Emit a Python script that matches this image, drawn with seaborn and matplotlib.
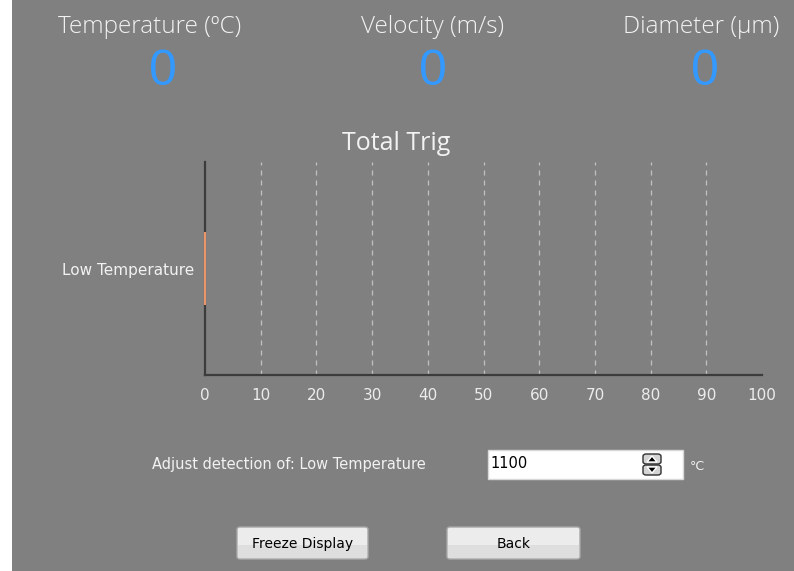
import matplotlib
matplotlib.use("Agg")
import matplotlib.pyplot as plt
import seaborn as sns
import pandas as pd
from matplotlib.patches import Rectangle, FancyBboxPatch, Polygon
from matplotlib import font_manager

# ---- data ----
categories = ["Low Temperature"]
values = [0]
x_ticks = [0, 10, 20, 30, 40, 50, 60, 70, 80, 90, 100]
header_labels = ["Temperature (\u00baC)", "Velocity (m/s)", "Diameter (\u00b5m)"]
header_values = [0, 0, 0]
chart_title = "Total Trig"
adjust_label = "Adjust detection of: Low Temperature"
threshold_value = "1100"
threshold_unit = "\u00b0C"
button_labels = ["Freeze Display", "Back"]

W, H = 794, 571
BG = "#808080"

sns.set_theme(style="white")
plt.rcParams["font.family"] = ["DejaVu Sans"]

fig = plt.figure(figsize=(W / 100, H / 100), dpi=100)
fig.patch.set_facecolor(BG)

def fx(px):
    return px / W

def fy(py):
    return 1 - py / H

# white strip on left edge
fig.add_artist(Rectangle((0, 0), fx(12), 1, transform=fig.transFigure,
                         facecolor="white", edgecolor="none", zorder=0))

avail = {f.name for f in font_manager.fontManager.ttflist}
light_font = "Open Sans" if "Open Sans" in avail else "DejaVu Sans"
narrow_font = "Liberation Sans Narrow" if "Liberation Sans Narrow" in avail else "Liberation Sans"

# ---- headers ----
hx = [150, 433, 701]
vx = [163, 433, 705]
for lab, val, x1, x2 in zip(header_labels, header_values, hx, vx):
    fig.text(fx(x1), fy(27), lab, ha="center", va="center", fontsize=17.5,
             color="#f2f2f2", family=[light_font, "DejaVu Sans"], fontweight="light")
    fig.text(fx(x2), fy(72), str(val), ha="center", va="center", fontsize=36,
             color="#3399ff", family=[narrow_font, "DejaVu Sans"])

fig.text(fx(396), fy(143), chart_title, ha="center", va="center", fontsize=18,
         color="#f2f2f2", family=[light_font, "DejaVu Sans"])

# ---- chart ----
ax = fig.add_axes([fx(205), fy(375), fx(762) - fx(205), (375 - 162) / H])
ax.set_facecolor("none")
df = pd.DataFrame({"category": categories, "value": values})
sns.barplot(data=df, x="value", y="category", orient="h", width=0.34,
            color="#e0906a", edgecolor="#e8956a", linewidth=1.6, ax=ax)
for p in ax.patches:
    p.set_zorder(5)
    p.set_clip_on(False)

ax.set_xlim(0, 100)
ax.set_xticks(x_ticks)
ax.set_xticklabels([str(t) for t in x_ticks])
ax.set_xlabel("")
ax.set_ylabel("")
ax.grid(axis="x", color="#c0c0c0", linestyle=(0, (4, 4)), linewidth=0.9)
ax.grid(axis="y", visible=False)
gl = ax.get_xgridlines()
gl[0].set_visible(False)
gl[-1].set_visible(False)
for s in ["top", "right"]:
    ax.spines[s].set_visible(False)
for s in ["left", "bottom"]:
    ax.spines[s].set_color("#3c3c3c")
    ax.spines[s].set_linewidth(1.6)
ax.tick_params(axis="x", length=0, pad=9, labelsize=11, labelcolor="#ececec")
ax.tick_params(axis="y", length=0, pad=8, labelsize=11, labelcolor="#f2f2f2")

# ---- adjust row ----
fig.text(fx(289), fy(465), adjust_label, ha="center", va="center", fontsize=10.5,
         color="#f2f2f2")
fig.add_artist(Rectangle((fx(488), fy(479)), fx(683) - fx(488), (479 - 450) / H,
                         transform=fig.transFigure, facecolor="white",
                         edgecolor="#d8d8d8", linewidth=1))
fig.text(fx(490), fy(464), threshold_value, ha="left", va="center", fontsize=10.5,
         color="black")
# spinner (two stacked buttons)
for (top, bot, tri) in [(454, 464, [(647, 462), (657, 462), (652, 456)]),
                        (465, 475, [(647, 467), (657, 467), (652, 473)])]:
    fig.add_artist(FancyBboxPatch((fx(643), fy(bot)), fx(18), (bot - top) / H,
                                  boxstyle="round,pad=0,rounding_size=0.004",
                                  transform=fig.transFigure, facecolor="#d4d4d4",
                                  edgecolor="#303030", linewidth=1.0))
    fig.add_artist(Polygon([(fx(a), fy(b)) for a, b in tri], closed=True,
                           transform=fig.transFigure, facecolor="black"))
fig.text(fx(690), fy(467), threshold_unit, ha="left", va="center", fontsize=9,
         color="#f2f2f2")

# ---- buttons ----
for lab, (x0, x1) in zip(button_labels, [(237, 368), (447, 580)]):
    fig.add_artist(FancyBboxPatch((fx(x0), fy(559)), fx(x1) - fx(x0), (559 - 527) / H,
                                  boxstyle="round,pad=0,rounding_size=0.004",
                                  transform=fig.transFigure, facecolor="#ececec",
                                  edgecolor="#a8a8a8", linewidth=1))
    fig.add_artist(Rectangle((fx(x0 + 1), fy(558)), fx(x1 - x0 - 2), 13 / H,
                             transform=fig.transFigure, facecolor="#dedede",
                             edgecolor="none"))
    fig.text(fx((x0 + x1) / 2), fy(544), lab, ha="center", va="center", fontsize=10,
             color="black")

fig.savefig("out.png", dpi=100, facecolor=fig.get_facecolor())
